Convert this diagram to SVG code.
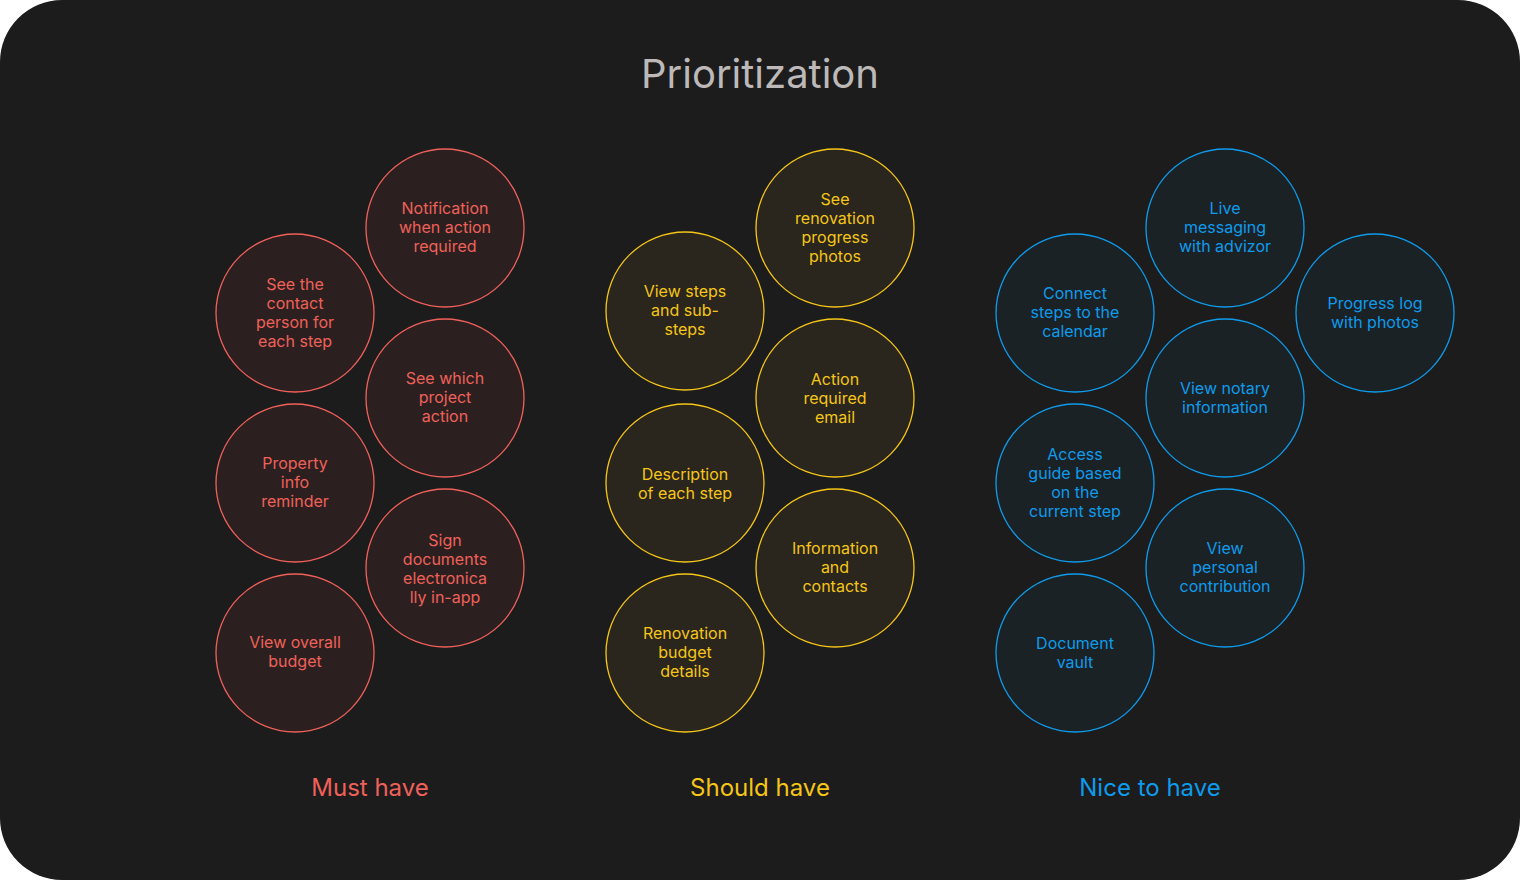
<svg xmlns="http://www.w3.org/2000/svg" width="1520" height="880" viewBox="0 0 1520 880">
<style>
text{font-family:Inter,"Noto Sans","Liberation Sans",sans-serif;text-anchor:middle}
.t{font-size:16px}
.r circle{fill:#2b201f;stroke:#f0605a;stroke-width:1.3}
.r text{fill:#f0605a}
.y circle{fill:#2a261d;stroke:#f5c518;stroke-width:1.3}
.y text{fill:#f5c518}
.b circle{fill:#1b2226;stroke:#0e9bec;stroke-width:1.3}
.b text{fill:#0e9bec}
</style>
<rect x="0" y="0" width="1520" height="880" rx="62" fill="#1c1c1c"/>
<text x="760" y="88" font-size="40" fill="#bdb9b9">Prioritization</text>
<g id="connectors"/>
<g class="r t">
<g id="n1"><circle cx="445" cy="228" r="79"/><text x="445" y="214">Notification</text><text x="445" y="233">when action</text><text x="445" y="252">required</text></g>
<g id="n2"><circle cx="295" cy="313" r="79"/><text x="295" y="290">See the</text><text x="295" y="309">contact</text><text x="295" y="328">person for</text><text x="295" y="347">each step</text></g>
<g id="n3"><circle cx="445" cy="398" r="79"/><text x="445" y="384">See which</text><text x="445" y="403">project</text><text x="445" y="422">action</text></g>
<g id="n4"><circle cx="295" cy="483" r="79"/><text x="295" y="469">Property</text><text x="295" y="488">info</text><text x="295" y="507">reminder</text></g>
<g id="n5"><circle cx="445" cy="568" r="79"/><text x="445" y="546">Sign</text><text x="445" y="565">documents</text><text x="445" y="584">electronica</text><text x="445" y="603">lly in-app</text></g>
<g id="n6"><circle cx="295" cy="653" r="79"/><text x="295" y="648">View overall</text><text x="295" y="667">budget</text></g>
</g>
<g class="y t">
<g id="n7"><circle cx="835" cy="228" r="79"/><text x="835" y="205">See</text><text x="835" y="224">renovation</text><text x="835" y="243">progress</text><text x="835" y="262">photos</text></g>
<g id="n8"><circle cx="685" cy="311" r="79"/><text x="685" y="297">View steps</text><text x="685" y="316">and sub-</text><text x="685" y="335">steps</text></g>
<g id="n9"><circle cx="835" cy="398" r="79"/><text x="835" y="385">Action</text><text x="835" y="404">required</text><text x="835" y="423">email</text></g>
<g id="n10"><circle cx="685" cy="483" r="79"/><text x="685" y="480">Description</text><text x="685" y="499">of each step</text></g>
<g id="n11"><circle cx="835" cy="568" r="79"/><text x="835" y="554">Information</text><text x="835" y="573">and</text><text x="835" y="592">contacts</text></g>
<g id="n12"><circle cx="685" cy="653" r="79"/><text x="685" y="639">Renovation</text><text x="685" y="658">budget</text><text x="685" y="677">details</text></g>
</g>
<g class="b t">
<g id="n13"><circle cx="1225" cy="228" r="79"/><text x="1225" y="214">Live</text><text x="1225" y="233">messaging</text><text x="1225" y="252">with advizor</text></g>
<g id="n14"><circle cx="1075" cy="313" r="79"/><text x="1075" y="299">Connect</text><text x="1075" y="318">steps to the</text><text x="1075" y="337">calendar</text></g>
<g id="n15"><circle cx="1375" cy="313" r="79"/><text x="1375" y="309">Progress log</text><text x="1375" y="328">with photos</text></g>
<g id="n16"><circle cx="1225" cy="398" r="79"/><text x="1225" y="394">View notary</text><text x="1225" y="413">information</text></g>
<g id="n17"><circle cx="1075" cy="483" r="79"/><text x="1075" y="460">Access</text><text x="1075" y="479">guide based</text><text x="1075" y="498">on the</text><text x="1075" y="517">current step</text></g>
<g id="n18"><circle cx="1225" cy="568" r="79"/><text x="1225" y="554">View</text><text x="1225" y="573">personal</text><text x="1225" y="592">contribution</text></g>
<g id="n19"><circle cx="1075" cy="653" r="79"/><text x="1075" y="649">Document</text><text x="1075" y="668">vault</text></g>
</g>
<text x="370" y="796" font-size="24" fill="#f0605a">Must have</text>
<text x="760" y="796" font-size="24" fill="#f5c518">Should have</text>
<text x="1150" y="796" font-size="24" fill="#0e9bec">Nice to have</text>
</svg>
